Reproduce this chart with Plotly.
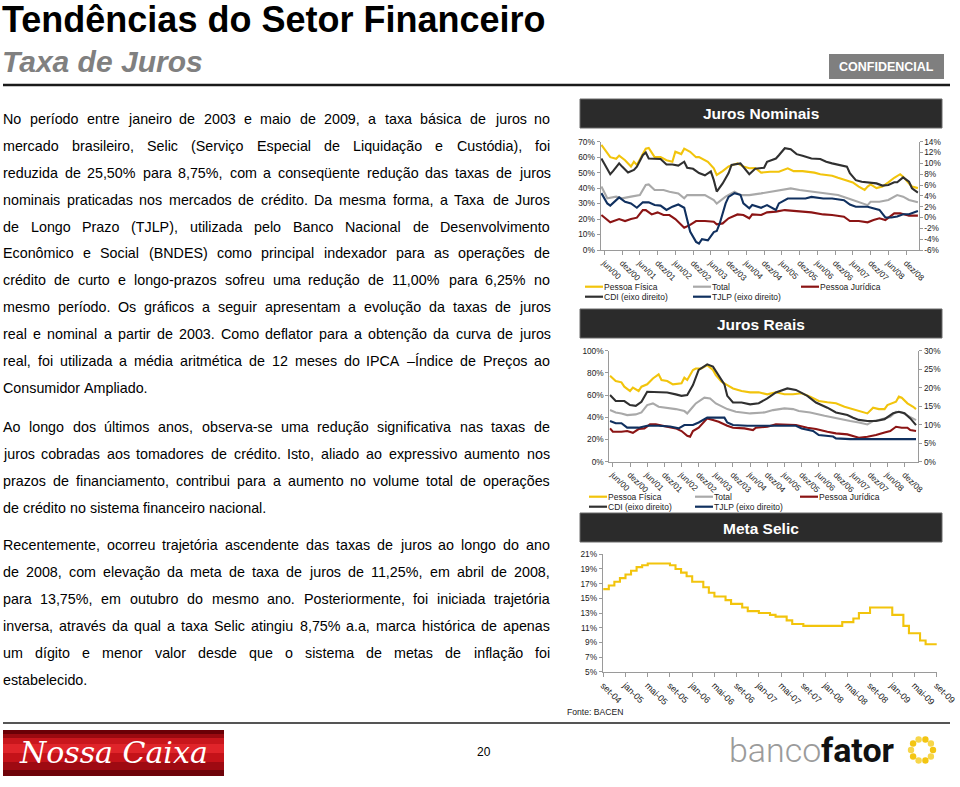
import math
import unicodedata
import plotly.graph_objects as go

W, H = 960, 787
ARIAL = "Liberation Sans, Arial, sans-serif"

# ------------------------------------------------------------------ data
semester_labels = ["jun/00", "dez/00", "jun/01", "dez/01", "jun/02", "dez/02", "jun/03", "dez/03",
                   "jun/04", "dez/04", "jun/05", "dez/05", "jun/06", "dez/06", "jun/07", "dez/07",
                   "jun/08", "dez/08"]
semester_ticks = [1 + 6 * i for i in range(len(semester_labels))]  # month index of each label

# Juros Nominais (month index, % a.a.)
nom_pf_t = [0, 3, 5, 6, 8, 10, 11, 12, 14, 15, 16, 18, 20, 22, 24, 25, 27, 28, 30, 32, 33, 36, 38, 39, 41, 43,
            46, 48, 50, 52, 54, 57, 60, 63, 65, 68, 72, 74, 76, 78, 80, 83, 85, 87, 89, 90, 91, 93, 95, 97, 99,
            101, 102, 104, 105, 107]
nom_pf_v = [68, 60, 59, 61, 58, 54, 57, 55, 62, 65.5, 66, 60, 60, 58, 57, 63.5, 62, 65.5, 63.5, 60, 60, 57, 52.8,
            48.5, 51, 54, 56, 54, 52.8, 53, 50, 50.6, 50.6, 52.8, 51, 51, 50, 49, 48.5, 48, 46.7, 45, 43.7, 41,
            38.8, 41, 42.4, 40, 41, 43.7, 46.7, 49, 47.4, 43, 41, 40]
nom_tot_t = [0, 2, 5, 7, 10, 13, 15, 16, 18, 21, 23, 26, 28, 29, 32, 35, 38, 39, 42, 45, 47, 50, 54, 57, 60, 64,
             67, 70, 74, 77, 80, 84, 87, 90, 91, 94, 97, 100, 102, 104, 107]
nom_tot_v = [41, 33.4, 34.5, 33.4, 34.5, 35.5, 42, 42.4, 38.8, 38.8, 37.7, 36.6, 33.4, 35.5, 35.5, 35.5, 32.3, 30,
             34.5, 37.7, 35.5, 35.5, 36.6, 37.7, 38.8, 39.8, 38.8, 38, 37.3, 36.6, 35.5, 33, 30.8, 29, 31.2, 31.2,
             32.3, 35.5, 34.5, 32.3, 30.8]
nom_pj_t = [0, 2, 3, 6, 8, 10, 12, 14, 15, 17, 19, 21, 23, 25, 27, 28, 30, 32, 35, 38, 39, 41, 43, 46, 48, 50, 51,
            54, 56, 59, 62, 65, 68, 71, 75, 78, 82, 84, 87, 90, 92, 94, 96, 99, 101, 104, 107]
nom_pj_v = [22.6, 19.4, 17.9, 20, 18.7, 20, 20.9, 25.8, 25.8, 23, 24.3, 22.6, 22.6, 20, 16.6, 14.4, 16.2, 18.7,
            18.7, 18.3, 16.6, 17.2, 20.5, 23, 22.6, 20.5, 23, 22.6, 24.3, 24.8, 25.8, 25.2, 24.8, 24.3, 23, 22.6,
            21.5, 18.7, 18.7, 17.9, 19.4, 20.5, 19.4, 23.7, 23.7, 22.2, 22.2]
nom_cdi_t = [0, 2, 3, 4, 6, 7, 9, 11, 12, 14, 15, 16, 19, 20, 22, 24, 26, 28, 29, 31, 33, 35, 37, 38, 39, 41, 43,
             44, 47, 49, 50, 52, 55, 56, 59, 60, 62, 64, 66, 68, 71, 74, 76, 78, 80, 83, 84, 86, 88, 91, 93, 95,
             97, 99, 100, 102, 104, 105, 107]
nom_cdi_v = [10.9, 8.8, 8.0, 8.6, 10, 9.4, 8.3, 8.8, 9.4, 11.5, 12, 10.9, 10.8, 10.8, 9.8, 9.8, 9.6, 10.3, 9.2,
             9.0, 8.2, 7.8, 8.5, 6.9, 4.8, 6.3, 8.2, 9.7, 10, 8.6, 8, 9, 9.2, 10.3, 10.9, 11.5, 12.8, 12.6, 11.7,
             11.4, 10.9, 10.8, 10.3, 10, 9.8, 9.4, 8.2, 6.9, 6.6, 6.5, 6.3, 5.9, 6, 6.5, 6.5, 7.4, 6.6, 5.4, 4.6]
nom_tjlp_t = [0, 2, 3, 6, 8, 10, 12, 14, 16, 18, 20, 22, 24, 26, 28, 29, 30, 32, 33, 34, 36, 38, 39, 40, 42, 43,
              45, 47, 48, 50, 51, 54, 56, 59, 60, 63, 65, 67, 69, 71, 75, 78, 82, 84, 86, 90, 92, 94, 96, 98, 100,
              102, 104, 107]
nom_tjlp_v = [4.5, 2.6, 2.2, 3.7, 2.9, 2.6, 1.8, 2.8, 2.8, 2.3, 2.2, 1.4, 2, 2.4, 1.8, -0.2, -2.6, -4.5, -4.8, -4,
              -4.2, -2.7, -2.5, -1.1, 2.6, 3.8, 4.5, 4.2, 2.6, 1.7, 2.3, 1.8, 2.3, 1.4, 2.6, 3.5, 3.5, 3.5, 3.5,
              3.8, 3.5, 3.5, 3.2, 2.4, 2, 2, 1.7, 1.4, 0, 0, 0.2, 0.6, 0.6, 1.2]

# Juros Reais (month index, % a.a.)
real_pf_t = [0, 2, 4, 5, 7, 8, 10, 11, 13, 15, 17, 18, 20, 22, 25, 26, 27, 29, 30, 32, 34, 36, 37, 39, 41, 43, 46,
             49, 52, 55, 58, 61, 64, 67, 70, 73, 76, 79, 82, 85, 87, 90, 92, 94, 96, 97, 100, 101, 102, 104, 106,
             107]
real_pf_v = [77.5, 72.7, 71.5, 67.6, 63.7, 66.7, 63.7, 67.6, 69.7, 75, 78.7, 73.6, 72.7, 69.7, 70.6, 75.7, 73.6,
             82.6, 84, 84, 87, 82.6, 78, 72, 69, 66, 63.7, 62.5, 62.5, 60.7, 62.5, 60.7, 60.7, 61.6, 58.6, 54.7,
             53.5, 52.6, 49.5, 47.4, 45.6, 43.5, 48.6, 47.4, 47.4, 51, 54, 58.6, 57.7, 52.6, 49.5, 47.4]
real_tot_t = [0, 2, 4, 6, 9, 11, 13, 15, 17, 20, 23, 26, 27, 29, 30, 33, 35, 37, 41, 44, 49, 54, 57, 61, 64, 66,
              70, 75, 79, 84, 87, 90, 92, 94, 98, 100, 102, 105, 107]
real_tot_v = [46.5, 44.4, 43.5, 42, 42.6, 44.4, 51, 52.5, 49.5, 48.6, 47.4, 45.6, 43.5, 49.5, 52.5, 57.7, 57, 52.5,
              47.4, 45, 43.5, 44.4, 46.5, 48, 47.4, 45.6, 44.4, 41.4, 39, 36.6, 35.4, 33.6, 36.6, 37.5, 40.5, 45,
              44.4, 40.5, 37.5]
real_pj_t = [0, 1, 4, 6, 8, 10, 12, 14, 16, 19, 21, 23, 25, 27, 28, 29, 31, 33, 34, 36, 38, 41, 43, 47, 50, 51, 55,
             58, 62, 65, 69, 72, 76, 79, 83, 85, 87, 90, 93, 96, 98, 100, 102, 104, 105, 107]
real_pj_v = [30, 27, 27, 27.6, 26, 29.4, 30, 33.6, 33.6, 32, 30.6, 30, 27.6, 23.4, 22.5, 27.6, 30.6, 36, 39, 37.5,
             36, 32.4, 30.6, 30, 28.5, 30.6, 31.5, 33.6, 33, 33, 30.6, 29.4, 27, 25.5, 24.6, 23.4, 21.6, 22.5, 24,
             26.4, 27.6, 31.5, 30.6, 30.6, 28.5, 27.6]
real_cdi_t = [0, 2, 5, 7, 9, 11, 13, 16, 20, 23, 25, 27, 29, 31, 34, 36, 38, 40, 41, 43, 46, 49, 52, 55, 58, 62,
              65, 69, 72, 76, 79, 83, 85, 87, 90, 93, 96, 99, 101, 103, 105, 107]
real_cdi_v = [18, 16.4, 16.4, 15.3, 15.1, 16.2, 18.9, 18.9, 18.7, 18.2, 17.8, 18, 20.7, 24.8, 26.3, 25.7, 23.4,
              20.9, 17.8, 16, 16, 15.5, 15.8, 17.1, 18.7, 19.8, 19.4, 17.8, 16, 14.6, 13.3, 12.6, 11.9, 11.3, 11,
              11, 11.5, 13.1, 13.5, 13.1, 11.7, 9.9]
real_tjlp_t = [0, 2, 4, 6, 10, 13, 17, 21, 24, 26, 29, 31, 34, 40, 41, 43, 48, 52, 58, 65, 67, 71, 73, 78, 79, 84,
               107]
real_tjlp_v = [11, 10.4, 10.4, 9.2, 9.2, 9.7, 9.7, 9.5, 9, 9.9, 9.9, 10.6, 11.9, 11.9, 10.6, 9.9, 9.7, 9.7, 9.7,
               9.7, 9, 8.3, 7.2, 6.8, 6.3, 6.1, 6.1]

# Meta Selic (monthly, set-04 .. set-09)
selic_labels = ["set-04", "jan-05", "mai-05", "set-05", "jan-06", "mai-06", "set-06", "jan-07", "mai-07",
                "set-07", "jan-08", "mai-08", "set-08", "jan-09", "mai-09", "set-09"]
selic_v = [16.25, 16.75, 17.25, 17.75, 18.25, 18.75, 19.25, 19.50, 19.75, 19.75,
           19.75, 19.75, 19.50, 19.00, 18.50, 18.00, 17.25, 17.25, 16.50, 15.75,
           15.25, 15.25, 14.75, 14.25, 14.25, 13.75, 13.25, 13.25, 13.00, 13.00,
           12.75, 12.50, 12.50, 12.00, 11.50, 11.50, 11.25, 11.25, 11.25, 11.25,
           11.25, 11.25, 11.25, 11.75, 11.75, 12.25, 13.00, 13.00, 13.75, 13.75,
           13.75, 13.75, 12.75, 12.75, 11.25, 10.25, 10.25, 9.25, 8.75, 8.75, 8.75]
selic_t = list(range(len(selic_v)))
selic_ticks = selic_t[::4]

series_names = ["Pessoa Física", "Total", "Pessoa Jurídica", "CDI (eixo direito)", "TJLP (eixo direito)"]
colors = {"Pessoa Física": "#f2c40c", "Total": "#a9a9a9", "Pessoa Jurídica": "#8b1414",
          "CDI (eixo direito)": "#303030", "TJLP (eixo direito)": "#10305f"}

paragraphs = [
    ["No período entre janeiro de 2003 e maio de 2009, a taxa básica de juros no",
     "mercado brasileiro, Selic (Serviço Especial de Liquidação e Custódia), foi",
     "reduzida de 25,50% para 8,75%, com a conseqüente redução das taxas de juros",
     "nominais praticadas nos mercados de crédito. Da mesma forma, a Taxa de Juros",
     "de Longo Prazo (TJLP), utilizada pelo Banco Nacional de Desenvolvimento",
     "Econômico e Social (BNDES) como principal indexador para as operações de",
     "crédito de curto e longo-prazos sofreu uma redução de 11,00% para 6,25% no",
     "mesmo período. Os gráficos a seguir apresentam a evolução da taxas de juros",
     "real e nominal a partir de 2003. Como deflator para a obtenção da curva de juros",
     "real, foi utilizada a média aritmética de 12 meses do IPCA –Índice de Preços ao",
     "Consumidor Ampliado."],
    ["Ao longo dos últimos anos, observa-se uma redução significativa nas taxas de",
     "juros cobradas aos tomadores de crédito. Isto, aliado ao expressivo aumento nos",
     "prazos de financiamento, contribui para a aumento no volume total de operações",
     "de crédito no sistema financeiro nacional."],
    ["Recentemente, ocorreu trajetória ascendente das taxas de juros ao longo do ano",
     "de 2008, com elevação da meta de taxa de juros de 11,25%, em abril de 2008,",
     "para 13,75%, em outubro do mesmo ano. Posteriormente, foi iniciada trajetória",
     "inversa, através da qual a taxa Selic atingiu 8,75% a.a, marca histórica de apenas",
     "um dígito e menor valor desde que o sistema de metas de inflação foi",
     "estabelecido."],
]


# ------------------------------------------------------------------ helpers
def fx(px):
    return px / W


def fy(py):
    return 1 - py / H


ARIAL_W = {}
for chars, w in [("'", 191), ("ijl|", 222), (" !,./:;I[]\\ft", 278), ("()-r`{}", 333), ('"', 355),
                 ("*", 389), ("Jckvxyzs", 500), ("0123456789abdeghnopqu#$L_?–", 556), ("+<=>~", 584),
                 ("FTZ", 611), ("ABEKPSVXY&", 667), ("CDHNRUw", 722), ("GOQ", 778), ("Mm", 833),
                 ("%", 889), ("W", 944)]:
    for c in chars:
        ARIAL_W[c] = w
ARIAL_W["í"] = 278
ARIAL_W["Í"] = 278


def text_width(s, size):
    tot = 0
    for c in s:
        if c not in ARIAL_W:
            base = unicodedata.normalize("NFD", c)[0]
            tot += ARIAL_W.get(base, 556)
        else:
            tot += ARIAL_W[c]
    return tot * size / 1000.0


annotations = []
shapes = []


def add_text(x, y, s, size, color="#000000", xanchor="left", yanchor="middle", family=ARIAL, **kw):
    annotations.append(dict(x=fx(x), y=fy(y), xref="paper", yref="paper", text=s, showarrow=False,
                            xanchor=xanchor, yanchor=yanchor, borderpad=0, borderwidth=0,
                            font=dict(size=size, color=color, family=family), **kw))


def add_rect(x0, y0, x1, y1, fill, line_color=None, lw=0):
    shapes.append(dict(type="rect", xref="paper", yref="paper", x0=fx(x0), x1=fx(x1), y0=fy(y1), y1=fy(y0),
                       fillcolor=fill, line=dict(color=line_color or fill, width=lw), layer="below"))


def add_line(x0, y0, x1, y1, color, width):
    shapes.append(dict(type="line", xref="paper", yref="paper", x0=fx(x0), x1=fx(x1), y0=fy(y0), y1=fy(y1),
                       line=dict(color=color, width=width)))


# ------------------------------------------------------------------ header / footer
add_text(2, 19.5, "<b>Tendências do Setor Financeiro</b>", 36)
add_text(2, 62, "<b><i>Taxa de Juros</i></b>", 30, color="#808080")
add_rect(829, 54, 944, 79, "#7f7f7f")
add_text(886.5, 66.5, "<b>CONFIDENCIAL</b>", 12.5, color="#ffffff", xanchor="center",
         family="Liberation Sans Narrow, Liberation Sans, Arial")
add_line(3, 85, 950, 85, "#1a1a1a", 2.5)
add_line(3, 723, 950, 723, "#555555", 2)

# justified body text
FS = 14.3
L_EDGE, R_EDGE = 3, 550
starts = [119, 427, 545]
LEAD = 26.9
for p, y0 in zip(paragraphs, starts):
    for i, line in enumerate(p):
        y = y0 + i * LEAD
        words = line.split(" ")
        widths = [text_width(w, FS) for w in words]
        last = (i == len(p) - 1)
        if last or len(words) == 1:
            gap = text_width(" ", FS)
        else:
            gap = (R_EDGE - L_EDGE - sum(widths)) / (len(words) - 1)
        x = L_EDGE
        for w, ww in zip(words, widths):
            add_text(x, y, w, FS)
            x += ww + gap

# Nossa Caixa logo
bands = [(730, 734, "#6a0006"), (734, 738, "#9a0a10"), (738, 744, "#c8161c"), (744, 753, "#e0242a"),
         (753, 762, "#c41219"), (762, 770, "#9e0a12"), (770, 776, "#6e040a")]
for a, b, c in bands:
    add_rect(3, a, 224, b, c)
add_text(113, 752, "<i>Nossa Caixa</i>", 30, color="#ffffff", xanchor="center",
         family="DejaVu Serif, Liberation Serif, serif")
add_text(484, 752, "20", 12, xanchor="center")

# banco fator logo
add_text(821, 750, "banco", 34, color="#9b9b9b", xanchor="right", family="Roboto Light, Roboto, Lato, sans-serif")
add_text(821, 750, "<b>fator</b>", 34, color="#111111", xanchor="left", family="Roboto, Liberation Sans, sans-serif")
for k in range(10):
    ang = 2 * math.pi * k / 10
    cx, cy = 922 + 11 * math.cos(ang), 750 + 11 * math.sin(ang)
    col = "#f3c512" if k % 2 == 0 else "#f7d64a"
    shapes.append(dict(type="circle", xref="paper", yref="paper", x0=fx(cx - 3.2), x1=fx(cx + 3.2),
                       y0=fy(cy + 3.2), y1=fy(cy - 3.2), fillcolor=col, line=dict(width=0)))

# chart title boxes
for (ya, yb, title) in [(99, 128, "Juros Nominais"), (309, 338, "Juros Reais"), (513, 542, "Meta Selic")]:
    add_rect(580, ya, 942, yb, "#2b2b2b", "#6a6a6a", 1)
    add_text(761, (ya + yb) / 2 + 0.5, "<b>" + title + "</b>", 15.5, color="#ffffff", xanchor="center")


# legends
def legend_block(x_cols, y_rows, names):
    pos = [(x_cols[0], y_rows[0]), (x_cols[1], y_rows[0]), (x_cols[2], y_rows[0]),
           (x_cols[0], y_rows[1]), (x_cols[1], y_rows[1])]
    for (x0, y), nm in zip(pos, names):
        add_line(x0, y, x0 + 18, y, colors[nm], 2.2)
        add_text(x0 + 18.5, y, nm, 8.5, color="#222222")


legend_block([585, 693, 801], [286.7, 296.7], series_names)
legend_block([589, 695, 800], [496.7, 506.7], series_names)
add_text(567, 712, "Fonte: BACEN", 8.6, color="#222222")

# ------------------------------------------------------------------ traces
fig = go.Figure()


def add_series(t, v, name, xa, ya):
    fig.add_trace(go.Scatter(x=t, y=v, mode="lines", name=name, xaxis=xa, yaxis=ya, showlegend=False,
                             line=dict(color=colors[name], width=2.1)))


add_series(nom_tot_t, nom_tot_v, "Total", "x", "y")
add_series(nom_pj_t, nom_pj_v, "Pessoa Jurídica", "x", "y")
add_series(nom_pf_t, nom_pf_v, "Pessoa Física", "x", "y")
add_series(nom_tjlp_t, nom_tjlp_v, "TJLP (eixo direito)", "x", "y2")
add_series(nom_cdi_t, nom_cdi_v, "CDI (eixo direito)", "x", "y2")

add_series(real_tot_t, real_tot_v, "Total", "x2", "y3")
add_series(real_pj_t, real_pj_v, "Pessoa Jurídica", "x2", "y3")
add_series(real_pf_t, real_pf_v, "Pessoa Física", "x2", "y3")
add_series(real_tjlp_t, real_tjlp_v, "TJLP (eixo direito)", "x2", "y4")
add_series(real_cdi_t, real_cdi_v, "CDI (eixo direito)", "x2", "y4")

fig.add_trace(go.Scatter(x=selic_t, y=selic_v, mode="lines", line_shape="hv", xaxis="x3", yaxis="y5",
                         showlegend=False, line=dict(color="#f2c40c", width=2.1)))

AX = "#9a9a9a"
TF = dict(size=8.3, color="#222222", family=ARIAL)


def pct_axis(lo, hi, step, domain=None, **kw):
    vals = list(range(lo, hi + 1, step))
    d = dict(range=[lo, hi], tickmode="array", tickvals=vals, ticktext=[f"{v}%" for v in vals],
             showline=True, linecolor=AX, linewidth=1, ticks="outside", ticklen=3, tickcolor=AX,
             showgrid=False, zeroline=False, tickfont=TF, automargin=False, fixedrange=True)
    if domain is not None:
        d["domain"] = domain
    d.update(kw)
    return d


def time_axis(domain, rng, tickvals, ticktext, anchor, fsize):
    return dict(domain=domain, range=rng, tickmode="array", tickvals=tickvals, ticktext=ticktext,
                tickangle=45, showline=True, linecolor=AX, linewidth=1, ticks="outside", ticklen=4,
                tickcolor=AX, showgrid=False, zeroline=False, tickfont=dict(size=fsize, color="#222222",
                                                                              family=ARIAL),
                anchor=anchor, automargin=False, fixedrange=True)


fig.update_layout(
    width=W, height=H, autosize=False, template="none",
    margin=dict(l=0, r=0, t=0, b=0, pad=0),
    paper_bgcolor="#ffffff", plot_bgcolor="rgba(0,0,0,0)",
    showlegend=False,
    xaxis=time_axis([fx(600.5), fx(918.5)], [-0.3, 107.2], semester_ticks, semester_labels, "y", 8.3),
    yaxis=pct_axis(0, 70, 10, [fy(250), fy(141.7)], anchor="x"),
    yaxis2=pct_axis(-6, 14, 2, None, overlaying="y", side="right", anchor="x"),
    xaxis2=time_axis([fx(609.3), fx(918.3)], [-0.25, 107.8], semester_ticks, semester_labels, "y3", 8.3),
    yaxis3=pct_axis(0, 100, 20, [fy(461.7), fy(350.7)], anchor="x2"),
    yaxis4=pct_axis(0, 30, 5, None, overlaying="y3", side="right", anchor="x2"),
    xaxis3=time_axis([fx(602.7), fx(937)], [-0.1, 60.05], selic_ticks, selic_labels, "y5", 9),
    yaxis5=pct_axis(5, 21, 2, [fy(671.7), fy(554.3)], anchor="x3"),
    annotations=annotations,
    shapes=shapes,
)

fig.write_html("out.html", config={"displayModeBar": False},
               post_script="document.body.style.margin='0px';")
